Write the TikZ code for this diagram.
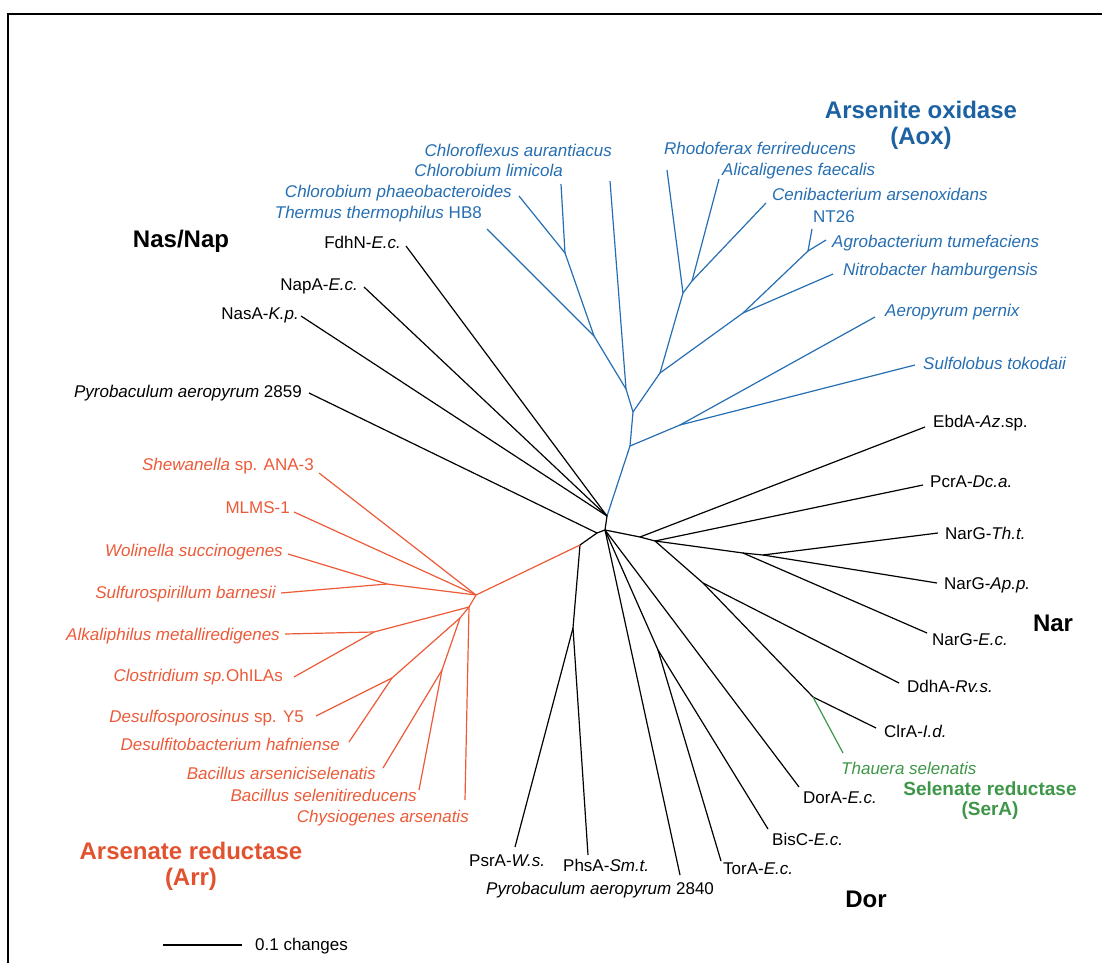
\documentclass[tikz,border=0pt]{standalone}
\usepackage{fontspec}
\setmainfont{Liberation Sans}
\usepackage{tikz}
\usepackage{xcolor}
\definecolor{aoxblue}{RGB}{38,110,178}
\definecolor{aoxtitle}{RGB}{28,98,162}
\definecolor{arrred}{RGB}{236,90,56}
\definecolor{arrtitle}{RGB}{226,82,46}
\definecolor{sergreen}{RGB}{62,150,72}

\begin{document}
\begin{tikzpicture}[x=1pt,y=-1pt,
  br/.style={line width=1.2pt,line join=round},
  lab/.style={inner sep=0pt,font=\fontsize{17}{20}\selectfont},
  grp/.style={inner sep=0pt,align=center,font=\fontsize{24}{26}\selectfont\bfseries}]

  \useasboundingbox (0,0) rectangle (1102,963);
  \draw[line width=2pt] (8,963) -- (8,14) -- (1102,14);

  % inner points of the tree
  \coordinate (nas) at (607,516);  \coordinate (ctr) at (605,530);
  \coordinate (lft) at (597,533);  \coordinate (psr0) at (580,545);
  \coordinate (psr1) at (573,628);
  \coordinate (b1) at (630,446);   \coordinate (b2) at (633,412);
  \coordinate (b3) at (680,425);   \coordinate (bc) at (626,389);
  \coordinate (bd) at (594,336);   \coordinate (be) at (565,253);
  \coordinate (bf) at (660,373);   \coordinate (bg) at (743,313);
  \coordinate (bh) at (683,293);   \coordinate (bi) at (808,251);
  \coordinate (bj) at (692,281);
  \coordinate (a1) at (476,595);   \coordinate (a2) at (387,584);
  \coordinate (a3) at (469,607);   \coordinate (a4) at (374,632);
  \coordinate (a5) at (460,618);   \coordinate (a6) at (392,678);
  \coordinate (a7) at (442,670);
  \coordinate (n1) at (640,537);   \coordinate (n2) at (655,541);
  \coordinate (n3) at (670,543);   \coordinate (n3b) at (743,553);
  \coordinate (n4) at (763,555);   \coordinate (k1) at (703,583);
  \coordinate (k2) at (813,697);   \coordinate (t1) at (658,650);

  % leaf ends
  \coordinate (lChfl) at (610,181); \coordinate (lChli) at (561,184);
  \coordinate (lChph) at (519,196); \coordinate (lTher) at (487,229);
  \coordinate (lRhod) at (667,170); \coordinate (lAlic) at (719,179);
  \coordinate (lCeni) at (766,203); \coordinate (lNT) at (812,229);
  \coordinate (lAgro) at (826,240); \coordinate (lNitr) at (833,274);
  \coordinate (lAero) at (875,317); \coordinate (lSulf) at (915,365);
  \coordinate (lFdhN) at (406,246); \coordinate (lNapA) at (364,287);
  \coordinate (lNasA) at (301,316); \coordinate (lP2859) at (309,393);
  \coordinate (lShew) at (319,473); \coordinate (lMLMS) at (294,512);
  \coordinate (lWoli) at (288,554); \coordinate (lSulfu) at (281,593);
  \coordinate (lAlka) at (285,634); \coordinate (lClos) at (294,677);
  \coordinate (lDsp) at (316,716);  \coordinate (lDfb) at (349,742);
  \coordinate (lBars) at (383,768); \coordinate (lBsel) at (419,790);
  \coordinate (lChys) at (465,800);
  \coordinate (lEbdA) at (925,427); \coordinate (lPcrA) at (923,485);
  \coordinate (lNTh) at (938,533);  \coordinate (lNAp) at (937,583);
  \coordinate (lNEc) at (927,633);  \coordinate (lDdhA) at (899,683);
  \coordinate (lClrA) at (876,728); \coordinate (lThau) at (843,753);
  \coordinate (lDorA) at (799,787); \coordinate (lBisC) at (768,829);
  \coordinate (lTorA) at (721,861); \coordinate (lP2840) at (680,875);
  \coordinate (lPhsA) at (588,855); \coordinate (lPsrA) at (515,847);

  \foreach \p/\c in {nas/b1,b1/b2,b1/b3,b3/lAero,b3/lSulf,b2/bc,bc/lChfl,bc/bd,
      bd/lTher,bd/be,be/lChli,be/lChph,b2/bf,bf/bg,bg/lNitr,bg/bi,bi/lNT,bi/lAgro,
      bf/bh,bh/lRhod,bh/bj,bj/lAlic,bj/lCeni}
    \draw[br,aoxblue] (\p) -- (\c);
  \foreach \p/\c in {nas/ctr,nas/lFdhN,nas/lNapA,nas/lNasA,ctr/lft,lft/lP2859,
      lft/psr0,psr0/psr1,psr1/lPsrA,psr1/lPhsA,ctr/lP2840,ctr/t1,t1/lTorA,t1/lBisC,
      ctr/lDorA,ctr/n1,n1/lEbdA,n1/n2,n2/lPcrA,n2/n3,n3/n3b,n3b/lNEc,n3b/n4,
      n4/lNTh,n4/lNAp,n2/k1,k1/lDdhA,k1/k2,k2/lClrA}
    \draw[br] (\p) -- (\c);
  \draw[br,sergreen] (k2) -- (lThau);
  \foreach \p/\c in {psr0/a1,a1/lShew,a1/lMLMS,a1/a2,a2/lWoli,a2/lSulfu,a1/a3,
      a3/a4,a4/lAlka,a4/lClos,a3/a5,a5/a6,a6/lDsp,a6/lDfb,a5/a7,a7/lBars,
      a7/lBsel,a3/lChys}
    \draw[br,arrred] (\p) -- (\c);

  % Aox labels
  \begin{scope}[every node/.style={lab,text=aoxblue}]
    \node[anchor=base east] (tChfl) at (612,156) {\itshape Chloroflexus aurantiacus};
    \node[anchor=base east] (tChli) at (563,176) {\itshape Chlorobium limicola};
    \node[anchor=base east] (tChph) at (512,197) {\itshape Chlorobium phaeobacteroides};
    \node[anchor=base east] (tTher) at (482,218) {\textit{Thermus thermophilus} HB8};
    \node[anchor=base west] (tRhod) at (664,154) {\itshape Rhodoferax ferrireducens};
    \node[anchor=base west] (tAlic) at (722,175) {\itshape Alicaligenes faecalis};
    \node[anchor=base west] (tCeni) at (772,200) {\itshape Cenibacterium arsenoxidans};
    \node[anchor=base west] (tNT) at (813,222) {NT26};
    \node[anchor=base west] (tAgro) at (832,247) {\itshape Agrobacterium tumefaciens};
    \node[anchor=base west] (tNitr) at (843,275) {\itshape Nitrobacter hamburgensis};
    \node[anchor=base west] (tAero) at (885,316) {\itshape Aeropyrum pernix};
    \node[anchor=base west] (tSulf) at (923,369) {\itshape Sulfolobus tokodaii};
  \end{scope}

  % Arr labels
  \begin{scope}[every node/.style={lab,text=arrred,anchor=base east}]
    \node (tShew) at (314,470) {\textit{Shewanella} sp. ANA-3};
    \node (tMLMS) at (290,513) {MLMS-1};
    \node (tWoli) at (283,556) {\itshape Wolinella succinogenes};
    \node (tSulfu) at (276,598) {\itshape Sulfurospirillum barnesii};
    \node (tAlka) at (280,640) {\itshape Alkaliphilus metalliredigenes};
    \node (tClos) at (283,681) {\textit{Clostridium sp.}OhILAs};
    \node (tDsp) at (304,722) {\textit{Desulfosporosinus} sp. Y5};
    \node (tDfb) at (340,750) {\itshape Desulfitobacterium hafniense};
    \node (tBars) at (376,779) {\itshape Bacillus arseniciselenatis};
    \node (tBsel) at (417,801) {\itshape Bacillus selenitireducens};
    \node (tChys) at (469,822) {\itshape Chysiogenes arsenatis};
  \end{scope}

  % black labels
  \begin{scope}[every node/.style={lab}]
    \node[anchor=base east] (tFdhN) at (401,248) {FdhN-\textit{E.c.}};
    \node[anchor=base east] (tNapA) at (358,290) {NapA-\textit{E.c.}};
    \node[anchor=base east] (tNasA) at (299,319) {NasA-\textit{K.p.}};
    \node[anchor=base east] (tP2859) at (302,397) {\textit{Pyrobaculum aeropyrum} 2859};
    \node[anchor=base west] (tEbdA) at (933,427) {EbdA-\textit{Az}.sp.};
    \node[anchor=base west] (tPcrA) at (930,487) {PcrA-\textit{Dc.a.}};
    \node[anchor=base west] (tNTh) at (945,539) {NarG-\textit{Th.t.}};
    \node[anchor=base west] (tNAp) at (944,589) {NarG-\textit{Ap.p.}};
    \node[anchor=base west] (tNEc) at (932,645) {NarG-\textit{E.c.}};
    \node[anchor=base west] (tDdhA) at (907,692) {DdhA-\textit{Rv.s.}};
    \node[anchor=base west] (tClrA) at (884,737) {ClrA-\textit{I.d.}};
    \node[anchor=base west,text=sergreen] (tThau) at (841,774) {\itshape Thauera selenatis};
    \node[anchor=base west] (tDorA) at (803,803) {DorA-\textit{E.c.}};
    \node[anchor=base west] (tBisC) at (772,845) {BisC-\textit{E.c.}};
    \node[anchor=base west] (tTorA) at (723,874) {TorA-\textit{E.c.}};
    \node[anchor=base west] (tPsrA) at (469,866) {PsrA-\textit{W.s.}};
    \node[anchor=base west] (tPhsA) at (563,871) {PhsA-\textit{Sm.t.}};
    \node[anchor=base west] (tP2840) at (486,894) {\textit{Pyrobaculum aeropyrum} 2840};
  \end{scope}

  % group names
  \node[grp,text=aoxtitle] (gAox) at (921,125) {Arsenite oxidase\\(Aox)};
  \node[grp] (gNas) at (181,241) {Nas/Nap};
  \node[grp] (gNar) at (1053,623) {Nar};
  \node[grp,text=sergreen,font=\fontsize{19}{20}\selectfont\bfseries] (gSer) at (990,801) {Selenate reductase\\(SerA)};
  \node[grp] (gDor) at (866,899) {Dor};
  \node[grp,text=arrtitle] (gArr) at (191,866) {Arsenate reductase\\(Arr)};

  % scale bar
  \coordinate (sbL) at (163,945);
  \coordinate (sbR) at (242,945);
  \draw[line width=1.2pt] (sbL) -- (sbR);
  \node[lab,anchor=base west] (sbT) at (255,950) {0.1 changes};
\end{tikzpicture}
\end{document}
